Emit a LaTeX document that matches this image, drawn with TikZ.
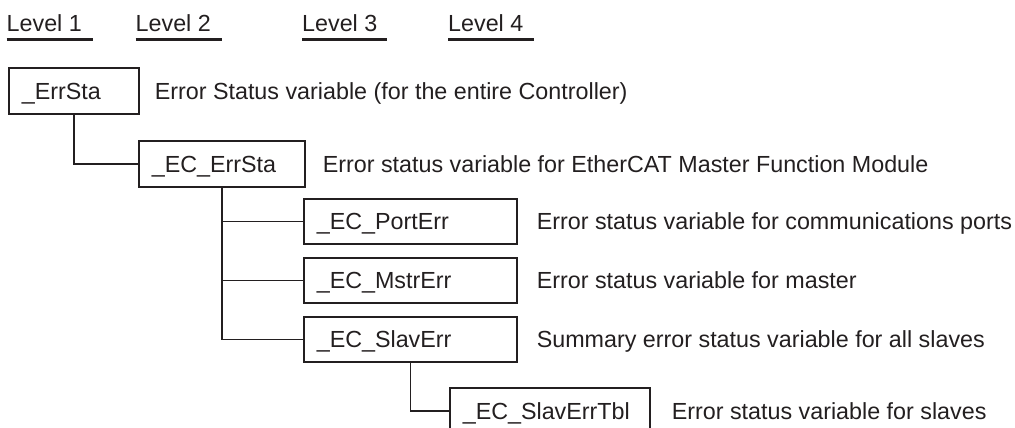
\documentclass[tikz,border=0pt]{standalone}
\usepackage{fontspec}
\setmainfont{Liberation Sans}
\definecolor{ink}{RGB}{35,31,32}
\begin{document}
\begin{tikzpicture}[x=1pt,y=-1pt,
  every node/.style={text=ink, font=\fontsize{23.3}{28}\selectfont},
  box/.style={draw=ink, line width=1.6pt, rectangle, anchor=north west,
    inner xsep=13pt, inner ysep=0pt, align=left, text height=16.7pt, text depth=0pt},
  desc/.style={anchor=west, inner sep=0pt, text height=16.7pt, text depth=0pt},
  conn/.style={draw=ink, line width=1.6pt},
  lvl/.style={anchor=base west, inner sep=0pt},
  uline/.style={draw=ink, line width=2.4pt}]
\useasboundingbox (0,0) rectangle (1015,428);

% level headings
\node[lvl] (l1) at (6.5,32) {Level 1};
\node[lvl] (l2) at (135.5,32) {Level 2};
\node[lvl] (l3) at (302,32) {Level 3};
\node[lvl] (l4) at (448,32) {Level 4};
\draw[uline] ([yshift=-7.5pt]l1.base west) -- +(86,0);
\draw[uline] ([yshift=-7.5pt]l2.base west) -- +(86,0);
\draw[uline] ([yshift=-7.5pt]l3.base west) -- +(85,0);
\draw[uline] ([yshift=-7.5pt]l4.base west) -- +(86,0);

% boxes
\node[box, text width=104pt, minimum height=46pt] (errsta) at (8,67) {\_ErrSta};
\node[box, text width=140pt, minimum height=46pt] (ecerr) at (138,140) {\_EC\_ErrSta};
\node[box, text width=187pt, minimum height=45pt] (port) at (303,198) {\_EC\_PortErr};
\node[box, text width=187pt, minimum height=45pt] (mstr) at (303,257) {\_EC\_MstrErr};
\node[box, text width=187pt, minimum height=45pt] (slav) at (303,316) {\_EC\_SlavErr};
\node[box, text width=174pt, minimum height=46pt] (tbl) at (449,387) {\_EC\_SlavErrTbl};

% descriptions
\node[desc] (d1) at ([xshift=15pt]errsta.east) {Error Status variable (for the entire Controller)};
\node[desc] (d2) at ([xshift=17pt]ecerr.east) {Error status variable for EtherCAT Master Function Module};
\node[desc] (d3) at ([xshift=19pt]port.east) {Error status variable for communications ports};
\node[desc] (d4) at ([xshift=19pt]mstr.east) {Error status variable for master};
\node[desc] (d5) at ([xshift=19pt]slav.east) {Summary error status variable for all slaves};
\node[desc] (d6) at ([xshift=21pt]tbl.east) {Error status variable for slaves};

% connectors
\draw[conn] (errsta.south) |- (ecerr.west);
\draw[conn] (ecerr.south) |- (port.west);
\draw[conn] (ecerr.south) |- (mstr.west);
\draw[conn] (ecerr.south) |- (slav.west);
\draw[conn] (slav.south) |- (tbl.west);
\end{tikzpicture}
\end{document}
